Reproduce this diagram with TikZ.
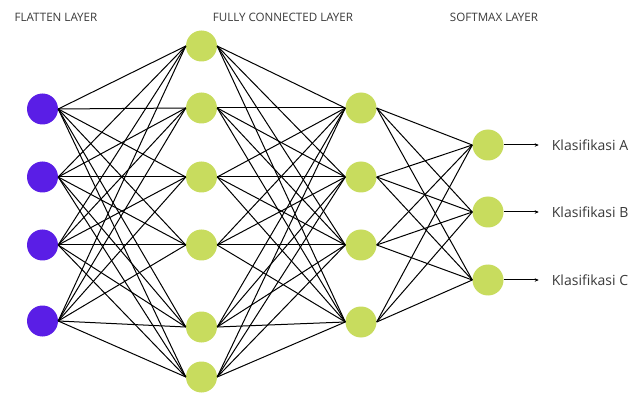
\documentclass[tikz,border=0pt]{standalone}
\usepackage{fontspec}
\setmainfont{Open Sans}
\usetikzlibrary{arrows.meta}
\definecolor{inputviolet}{HTML}{5A1EE6}
\definecolor{neurongreen}{HTML}{C8DC5E}
\definecolor{labelgray}{HTML}{3A3A3A}
\begin{document}
\begin{tikzpicture}[x=1pt,y=-1pt,
  neuron/.style={circle,minimum size=31pt,inner sep=0pt,draw=none},
  inneuron/.style={neuron,fill=inputviolet},
  hidneuron/.style={neuron,fill=neurongreen},
  link/.style={draw=black,line width=1pt},
  outarrow/.style={draw=black,line width=1pt,-{Stealth[length=4pt,width=3.5pt]}},
  header/.style={text=labelgray,font=\fontsize{11.6}{13}\selectfont,inner sep=0pt},
  classlabel/.style={text=labelgray,font=\fontsize{14}{16}\selectfont,inner sep=0pt,anchor=west}]
\useasboundingbox[fill=white] (0,0) rectangle (630,393);

% layer titles
\node[header] (tflat) at (56,17) {FLATTEN LAYER};
\node[header] (tfc) at (283,17) {FULLY CONNECTED LAYER};
\node[header] (tsoft) at (494,17) {SOFTMAX LAYER};

% connections are drawn first so the neurons sit on top
\foreach \y [count=\i] in {109,177,245,321}
  \coordinate (fc\i) at (42.5,\y);
\foreach \y [count=\i] in {46,108,177,245,327,377}
  \coordinate (hc\i) at (201.5,\y);
\foreach \y [count=\i] in {108,177,245,322}
  \coordinate (gc\i) at (361,\y);
\foreach \y [count=\i] in {145,212,280}
  \coordinate (sc\i) at (488,\y);

% flatten layer
\foreach \i in {1,...,4}
  \node[inneuron] (f\i) at (fc\i) {};
% first fully connected layer
\foreach \i in {1,...,6}
  \node[hidneuron] (h\i) at (hc\i) {};
% second fully connected layer
\foreach \i in {1,...,4}
  \node[hidneuron] (g\i) at (gc\i) {};
% softmax layer
\foreach \i in {1,...,3}
  \node[hidneuron] (s\i) at (sc\i) {};

% connections
\foreach \i in {1,...,4}
  \foreach \j in {1,...,6}
    \draw[link] (f\i.east) -- (h\j.west);
\foreach \i in {1,...,6}
  \foreach \j in {1,...,4}
    \draw[link] (h\i.east) -- (g\j.west);
\foreach \i in {1,...,4}
  \foreach \j in {1,...,3}
    \draw[link] (g\i.east) -- (s\j.west);

% outputs
\foreach \i/\c in {1/A,2/B,3/C} {
  \coordinate (o\i) at ([xshift=35pt]s\i.east);
  \draw[outarrow] (s\i.east) -- (o\i);
  \node[classlabel] (k\i) at ([xshift=13pt]o\i) {Klasifikasi \c};
}
\end{tikzpicture}
\end{document}
